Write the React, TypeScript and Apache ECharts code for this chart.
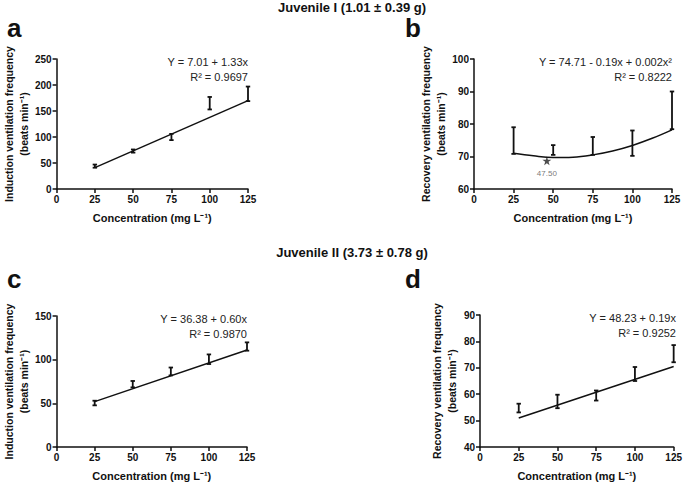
import React, { useEffect, useRef } from "react";
import * as echarts from "echarts";

// ---------- data ----------
const concentrations = [25, 50, 75, 100, 125];

// Panel a: Juvenile I induction
const aBarLow = [41, 70, 94, 153, 169];
const aBarHigh = [47, 76, 106, 177, 197];
const aFitX = [25, 125];
const aFitY = [41, 170];

// Panel b: Juvenile I recovery
const bBarLow = [70.8, 70.5, 70.5, 70.2, 78.4];
const bBarHigh = [79, 73.5, 76, 78, 90];
const bCurveX = [25, 37.5, 50, 62.5, 75, 87.5, 100, 112.5, 125];
const bCurveY = [71, 70.2, 69.7, 69.8, 70.5, 71.7, 73.4, 75.6, 78.2];
const bStar = [46, 68.7];
const bStarLabel = "47.50";

// Panel c: Juvenile II induction
const cBarLow = [47.7, 68.3, 82, 95, 110.3];
const cBarHigh = [53, 75.6, 91, 106, 119.8];
const cFitX = [25, 125];
const cFitY = [52, 111];

// Panel d: Juvenile II recovery
const dBarLow = [53.1, 54.7, 57.6, 65, 72.1];
const dBarHigh = [56.4, 59.8, 61.4, 70.3, 78.6];
const dFitX = [25, 125];
const dFitY = [51, 70.5];

const titles = ["Juvenile I (1.01 ± 0.39 g)", "Juvenile II (3.73 ± 0.78 g)"];
const panelLetters = ["a", "b", "c", "d"];
const yNames = [
  "Induction ventilation frequency\n(beats min⁻¹)",
  "Recovery ventilation frequency\n(beats min⁻¹)",
  "Induction ventilation frequency\n(beats min⁻¹)",
  "Recovery ventilation frequency\n(beats min⁻¹)",
];
const xName = "Concentration (mg L⁻¹)";
const equations = [
  ["Y = 7.01 + 1.33x", "R² = 0.9697"],
  ["Y = 74.71 - 0.19x + 0.002x²", "R² = 0.8222"],
  ["Y = 36.38 + 0.60x", "R² = 0.9870"],
  ["Y = 48.23 + 0.19x", "R² = 0.9252"],
];
const yRanges = [
  { min: 0, max: 250, interval: 50 },
  { min: 60, max: 100, interval: 10 },
  { min: 0, max: 150, interval: 50 },
  { min: 40, max: 90, interval: 10 },
];

const FONT = "'Liberation Sans', Arial, Helvetica, sans-serif";
const INK = "#111";

const grids = [
  { left: 52, top: 59, width: 196, height: 130 },
  { left: 474, top: 59, width: 198, height: 130 },
  { left: 51, top: 316, width: 196, height: 131 },
  { left: 480, top: 315, width: 195, height: 132 },
];

function errorBarSeries(idx: number, low: number[], high: number[]) {
  return {
    type: "custom",
    xAxisIndex: idx,
    yAxisIndex: idx,
    clip: false,
    z: 3,
    data: concentrations.map((c, i) => [c, low[i], high[i]]),
    renderItem: (params: any, api: any) => {
      const x = api.value(0);
      const lo = api.coord([x, api.value(1)]);
      const hi = api.coord([x, api.value(2)]);
      const w = 2.2;
      const st = { stroke: INK, lineWidth: 1.8 };
      return {
        type: "group",
        children: [
          { type: "line", shape: { x1: lo[0], y1: lo[1], x2: hi[0], y2: hi[1] }, style: st },
          { type: "line", shape: { x1: hi[0] - w, y1: hi[1], x2: hi[0] + w, y2: hi[1] }, style: st },
          { type: "line", shape: { x1: lo[0] - w, y1: lo[1], x2: lo[0] + w, y2: lo[1] }, style: st },
        ],
      };
    },
  };
}

function fitSeries(idx: number, xs: number[], ys: number[], smooth = false) {
  return {
    type: "line",
    xAxisIndex: idx,
    yAxisIndex: idx,
    data: xs.map((x, i) => [x, ys[i]]),
    showSymbol: false,
    symbol: "none",
    smooth: smooth ? 0.4 : false,
    lineStyle: { color: INK, width: 1.5 },
    z: 2,
  };
}

export default function App() {
  const ref = useRef<HTMLDivElement>(null);

  useEffect(() => {
    if (!ref.current) return;
    const chart = echarts.init(ref.current, undefined, { renderer: "svg" });

    const xAxes = grids.map((_, i) => ({
      type: "value",
      gridIndex: i,
      min: 0,
      max: 125,
      interval: 25,
      name: xName,
      nameLocation: "middle",
      nameGap: 23,
      nameTextStyle: { fontFamily: FONT, fontSize: 11, fontWeight: "bold", color: INK },
      axisLine: { show: true, lineStyle: { color: INK, width: 1.5 } },
      axisTick: { show: true, length: 4, lineStyle: { color: INK, width: 1.5 } },
      axisLabel: { fontFamily: FONT, fontSize: 10, fontWeight: "bold", color: INK, margin: 5 },
      splitLine: { show: false },
    }));

    const yAxes = grids.map((_, i) => ({
      type: "value",
      gridIndex: i,
      min: yRanges[i].min,
      max: yRanges[i].max,
      interval: yRanges[i].interval,
      name: yNames[i],
      nameLocation: "middle",
      nameRotate: 90,
      nameGap: 21,
      nameTextStyle: { fontFamily: FONT, fontSize: 10.5, fontWeight: "bold", color: INK, lineHeight: 15 },
      axisLine: { show: true, lineStyle: { color: INK, width: 1.5 } },
      axisTick: { show: true, length: 4, lineStyle: { color: INK, width: 1.5 } },
      axisLabel: { fontFamily: FONT, fontSize: 10, fontWeight: "bold", color: INK, margin: 5 },
      splitLine: { show: false },
    }));

    const eqPos = [
      { x: 248, y1: 62, y2: 77 },
      { x: 672, y1: 62, y2: 77 },
      { x: 247, y1: 319, y2: 334 },
      { x: 676, y1: 318, y2: 333 },
    ];
    const letterPos = [
      { x: 7, y: 27.5 },
      { x: 405, y: 27.5 },
      { x: 7, y: 279 },
      { x: 405, y: 279 },
    ];

    const graphics: any[] = [];
    titles.forEach((t, i) => {
      graphics.push({
        type: "text",
        x: 352,
        y: i === 0 ? 7.5 : 252,
        style: {
          text: t,
          align: "center",
          verticalAlign: "middle",
          font: `bold 13px ${FONT}`,
          fill: INK,
        },
      });
    });
    panelLetters.forEach((l, i) => {
      graphics.push({
        type: "text",
        x: letterPos[i].x,
        y: letterPos[i].y,
        style: {
          text: l,
          align: "left",
          verticalAlign: "middle",
          font: `bold 26px ${FONT}`,
          fill: INK,
        },
      });
    });
    equations.forEach((eq, i) => {
      graphics.push({
        type: "text",
        x: eqPos[i].x,
        y: eqPos[i].y1,
        style: { text: eq[0], align: "right", verticalAlign: "middle", font: `11px ${FONT}`, fill: "#222" },
      });
      graphics.push({
        type: "text",
        x: eqPos[i].x,
        y: eqPos[i].y2,
        style: { text: eq[1], align: "right", verticalAlign: "middle", font: `11px ${FONT}`, fill: "#222" },
      });
    });

    const option: any = {
      animation: false,
      backgroundColor: "#fff",
      grid: grids.map((g) => ({ ...g, containLabel: false })),
      xAxis: xAxes,
      yAxis: yAxes,
      graphic: graphics,
      series: [
        fitSeries(0, aFitX, aFitY),
        errorBarSeries(0, aBarLow, aBarHigh),
        fitSeries(1, bCurveX, bCurveY, true),
        errorBarSeries(1, bBarLow, bBarHigh),
        {
          type: "scatter",
          xAxisIndex: 1,
          yAxisIndex: 1,
          data: [bStar],
          symbol:
            "path://M50,0 L61,35 L98,35 L68,57 L79,91 L50,70 L21,91 L32,57 L2,35 L39,35 Z",
          symbolSize: 9,
          itemStyle: { color: "#222" },
          label: {
            show: true,
            position: "bottom",
            distance: 4,
            formatter: bStarLabel,
            fontFamily: FONT,
            fontSize: 8,
            color: "#555",
          },
          z: 4,
        },
        fitSeries(2, cFitX, cFitY),
        errorBarSeries(2, cBarLow, cBarHigh),
        fitSeries(3, dFitX, dFitY),
        errorBarSeries(3, dBarLow, dBarHigh),
      ],
    };

    chart.setOption(option);
    return () => chart.dispose();
  }, []);

  return (
    <div
      ref={ref}
      style={{ position: "fixed", left: 0, top: 0, width: 685, height: 482, background: "#fff" }}
    />
  );
}
